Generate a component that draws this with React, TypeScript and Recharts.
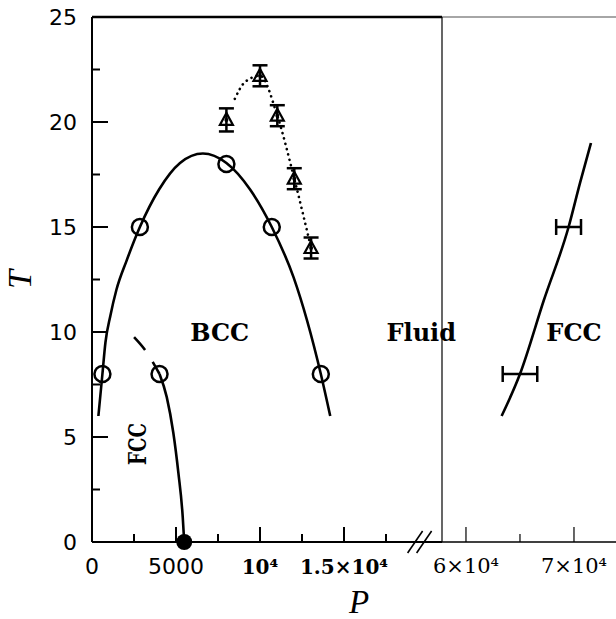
import {
  ComposedChart,
  Line,
  Scatter,
  XAxis,
  YAxis,
  ErrorBar,
  ReferenceLine,
  ReferenceDot,
} from "recharts";

const W = 616;
const H = 619;
const PLOT_LEFT = 92;
const PLOT_TOP = 17;
const PLOT_BOTTOM = 542;
const BREAK_X = 442;
const X_AXIS_H = 40;

const SANS = "'DejaVu Sans', sans-serif";
const SERIF = "'DejaVu Serif', serif";
const TIMES = "'Liberation Serif', 'Times New Roman', serif";

// axis ranges and ticks
const LEFT_DOMAIN: [number, number] = [0, 20833];
const RIGHT_DOMAIN: [number, number] = [57780, 73890];
const T_DOMAIN: [number, number] = [0, 25];
const T_TICKS = [0, 2.5, 5, 7.5, 10, 12.5, 15, 17.5, 20, 22.5, 25];
const LEFT_P_TICKS = [0, 2500, 5000, 7500, 10000, 12500, 15000, 17500];
const RIGHT_P_TICKS = [60000, 65000, 70000];
const LEFT_P_LABELS: Record<number, string> = {
  0: "0",
  5000: "5000",
  10000: "10⁴",
  15000: "1.5×10⁴",
};
const RIGHT_P_LABELS: Record<number, string> = {
  60000: "6×10⁴",
  70000: "7×10⁴",
};
const BREAK_P = 19500;

// BCC-fluid coexistence (fit)
const bccMeltP = [380, 620, 800, 1100, 1450, 2060, 2850, 4000, 5240, 6600, 8000, 9400, 10700, 12000, 13620, 14180];
const bccMeltT = [6.0, 8.0, 9.5, 10.8, 12.0, 13.4, 15.0, 16.8, 18.05, 18.5, 18.05, 16.8, 15.0, 12.6, 8.0, 6.0];

// BCC-fluid simulation points
const bccPtsP = [620, 2850, 8000, 10700, 13620];
const bccPtsT = [8, 15, 18, 15, 8];

// FCC-BCC boundary
const fccBccP = [4020, 4450, 4840, 5140, 5400, 5490];
const fccBccT = [8, 6.9, 5.2, 3.3, 1.2, 0];
const fccBccPtP = [4020];
const fccBccPtT = [8];
const fccBccT0P = [5490];
const fccBccT0T = [0];

// extrapolated FCC-BCC boundary
const fccBccExtP = [4020, 3200, 2500];
const fccBccExtT = [8, 9.1, 9.76];

// upper estimate with error bars and dotted guide
const triP = [8000, 10000, 11030, 12040, 13040];
const triT = [20.1, 22.2, 20.3, 17.3, 14.0];
const triErr = [0.55, 0.5, 0.5, 0.5, 0.5];
const triFitP = [8500, 9100, 10000, 11030, 12040, 13040];
const triFitT = [21.1, 21.9, 22.2, 20.3, 17.3, 14.0];

// FCC-fluid coexistence at high pressure
const fccMeltP = [63300, 65000, 67200, 69500, 70560, 71570];
const fccMeltT = [6.0, 8.0, 11.5, 15.0, 17.1, 19.0];
const fccPtsP = [65000, 69500];
const fccPtsT = [8, 15];
const fccPtsErr = [1600, 1150];

const pts = (ps: number[], ts: number[], es?: number[]) =>
  ps.map((p, i) => ({ p, t: ts[i], e: es ? es[i] : 0 }));

const LeftPTick = ({ x, y, payload }: any) => {
  const v = payload.value;
  const label = LEFT_P_LABELS[v];
  const bold = v >= 10000;
  return (
    <g>
      {v > 0 && (
        <line x1={x} y1={y} x2={x} y2={y - (label ? 15 : 8)} stroke="#000" strokeWidth={2} />
      )}
      {label && (
        <text
          x={x}
          y={y + 32}
          textAnchor="middle"
          fontFamily={bold ? SERIF : SANS}
          fontWeight={bold ? 700 : 400}
          fontSize={bold ? 20 : 22}
          fill="#000"
        >
          {label}
        </text>
      )}
    </g>
  );
};

const RightPTick = ({ x, y, payload }: any) => {
  const v = payload.value;
  const label = RIGHT_P_LABELS[v];
  return (
    <g>
      <line x1={x} y1={y} x2={x} y2={y - (label ? 15 : 8)} stroke="#000" strokeWidth={1.2} />
      {label && (
        <text x={x} y={y + 31} textAnchor="middle" fontFamily={SERIF} fontSize={21} fill="#000">
          {label}
        </text>
      )}
    </g>
  );
};

const TTick = ({ x, y, payload }: any) => {
  const v = payload.value;
  const major = v % 5 === 0;
  return (
    <g>
      {v > 0 && v < 25 && (
        <line x1={x} y1={y} x2={x + (major ? 16 : 8)} y2={y} stroke="#000" strokeWidth={2} />
      )}
      {major && (
        <text x={x - 15} y={y + 8} textAnchor="end" fontFamily={SANS} fontSize={22} fill="#000">
          {v}
        </text>
      )}
    </g>
  );
};

const TTitle = ({ viewBox }: any) => (
  <g transform={`translate(${viewBox.x + 19},${viewBox.y + viewBox.height / 2}) rotate(-90)`}>
    <text x={0} y={0} textAnchor="middle" fontFamily={TIMES} fontStyle="italic" fontSize={34} fill="#000">
      T
    </text>
  </g>
);

const PTitle = () => (
  <text
    x={(PLOT_LEFT + W) / 2 + 5}
    y={PLOT_BOTTOM + 71}
    textAnchor="middle"
    fontFamily={TIMES}
    fontStyle="italic"
    fontSize={33}
    fill="#000"
  >
    P
  </text>
);

const phaseText =
  (text: string, rotate = false) =>
  ({ cx, cy }: any) =>
    rotate ? (
      <g transform={`translate(${cx},${cy}) rotate(-90)`}>
        <text
          x={0}
          y={0}
          dy="0.36em"
          textAnchor="middle"
          fontFamily={SERIF}
          fontWeight={700}
          fontSize={25}
          textLength={42}
          lengthAdjust="spacingAndGlyphs"
          fill="#000"
        >
          {text}
        </text>
      </g>
    ) : (
      <text x={cx} y={cy} dy="0.36em" textAnchor="middle" fontFamily={SERIF} fontWeight={700} fontSize={24} fill="#000">
        {text}
      </text>
    );

const breakMark = ({ cx, cy }: any) => (
  <g stroke="#000" strokeWidth={1.6}>
    <line x1={cx - 12} y1={cy + 11} x2={cx + 3} y2={cy - 11} />
    <line x1={cx - 3} y1={cy + 11} x2={cx + 12} y2={cy - 11} />
  </g>
);

const openCircle = ({ cx, cy }: any) => (
  <circle cx={cx} cy={cy} r={8} fill="none" stroke="#000" strokeWidth={2.5} />
);
const filledCircle = ({ cx, cy }: any) => <circle cx={cx} cy={cy} r={8} fill="#000" />;
const triangle = ({ cx, cy }: any) => (
  <g>
    <polygon
      points={`${cx},${cy - 7} ${cx - 6.5},${cy + 5} ${cx + 6.5},${cy + 5}`}
      fill="none"
      stroke="#000"
      strokeWidth={2.2}
    />
    <circle cx={cx} cy={cy} r={2} fill="#000" />
  </g>
);
const noDot = () => <g />;

const margin = (left: number, right: number) => ({
  top: PLOT_TOP,
  right,
  left,
  bottom: H - PLOT_BOTTOM - X_AXIS_H,
});

export default function App() {
  return (
    <div style={{ position: "absolute", left: 0, top: 0, width: W, height: H, background: "#fff" }}>
      <div style={{ position: "absolute", left: 0, top: 0 }}>
        <ComposedChart width={W} height={H} margin={margin(PLOT_LEFT - 80, W - BREAK_X)}>
          <XAxis
            type="number"
            dataKey="p"
            domain={LEFT_DOMAIN}
            ticks={LEFT_P_TICKS}
            interval={0}
            height={X_AXIS_H}
            tick={<LeftPTick />}
            tickSize={0}
            tickMargin={0}
            tickLine={false}
            axisLine={{ stroke: "#000", strokeWidth: 2 }}
            label={{ content: PTitle }}
          />
          <YAxis
            type="number"
            dataKey="t"
            domain={T_DOMAIN}
            ticks={T_TICKS}
            interval={0}
            width={80}
            tick={<TTick />}
            tickSize={0}
            tickMargin={0}
            tickLine={false}
            axisLine={{ stroke: "#000", strokeWidth: 2 }}
            label={{ content: TTitle }}
          />
          <ReferenceLine y={25} stroke="#000" strokeWidth={2.5} />
          <Line
            data={pts(bccMeltP, bccMeltT)}
            dataKey="t"
            type="monotone"
            stroke="#000"
            strokeWidth={2.6}
            dot={false}
            isAnimationActive={false}
          />
          <Line
            data={pts(fccBccP, fccBccT)}
            dataKey="t"
            type="monotone"
            stroke="#000"
            strokeWidth={2.6}
            dot={false}
            isAnimationActive={false}
          />
          <Line
            data={pts(fccBccExtP, fccBccExtT)}
            dataKey="t"
            type="monotone"
            stroke="#000"
            strokeWidth={2.6}
            strokeDasharray="14 14 17 100"
            dot={false}
            isAnimationActive={false}
          />
          <Line
            data={pts(triFitP, triFitT)}
            dataKey="t"
            type="monotone"
            stroke="#000"
            strokeWidth={2.6}
            strokeLinecap="round"
            strokeDasharray="0.1 5.4"
            dot={false}
            isAnimationActive={false}
          />
          <Scatter data={pts(bccPtsP, bccPtsT)} shape={openCircle} isAnimationActive={false} />
          <Scatter data={pts(fccBccPtP, fccBccPtT)} shape={openCircle} isAnimationActive={false} />
          <Scatter data={pts(fccBccT0P, fccBccT0T)} shape={filledCircle} isAnimationActive={false} />
          <Scatter data={pts(triP, triT, triErr)} shape={triangle} isAnimationActive={false}>
            <ErrorBar dataKey="e" direction="y" width={7.5} stroke="#000" strokeWidth={2.5} />
          </Scatter>
          <ReferenceDot x={7600} y={10} r={0} ifOverflow="visible" shape={phaseText("BCC")} />
          <ReferenceDot x={19600} y={10} r={0} ifOverflow="visible" shape={phaseText("Fluid")} />
          <ReferenceDot x={2680} y={4.67} r={0} ifOverflow="visible" shape={phaseText("FCC", true)} />
          <ReferenceDot x={BREAK_P} y={0} r={0} ifOverflow="visible" shape={breakMark} />
        </ComposedChart>
      </div>
      <div style={{ position: "absolute", left: 0, top: 0 }}>
        <ComposedChart width={W} height={H} margin={margin(BREAK_X, 0)}>
          <XAxis
            type="number"
            dataKey="p"
            domain={RIGHT_DOMAIN}
            ticks={RIGHT_P_TICKS}
            interval={0}
            height={X_AXIS_H}
            tick={<RightPTick />}
            tickSize={0}
            tickMargin={0}
            tickLine={false}
            axisLine={{ stroke: "#000", strokeWidth: 1.5 }}
          />
          <YAxis type="number" dataKey="t" domain={T_DOMAIN} hide />
          <ReferenceLine y={25} stroke="#888" strokeWidth={1.5} />
          <ReferenceLine x={RIGHT_DOMAIN[0]} stroke="#000" strokeWidth={1.2} />
          <Line
            data={pts(fccMeltP, fccMeltT)}
            dataKey="t"
            type="monotone"
            stroke="#000"
            strokeWidth={2.6}
            dot={false}
            isAnimationActive={false}
          />
          <Scatter data={pts(fccPtsP, fccPtsT, fccPtsErr)} shape={noDot} isAnimationActive={false}>
            <ErrorBar dataKey="e" direction="x" width={8} stroke="#000" strokeWidth={2.5} />
          </Scatter>
          <ReferenceDot x={70000} y={10} r={0} ifOverflow="visible" shape={phaseText("FCC")} />
        </ComposedChart>
      </div>
    </div>
  );
}
